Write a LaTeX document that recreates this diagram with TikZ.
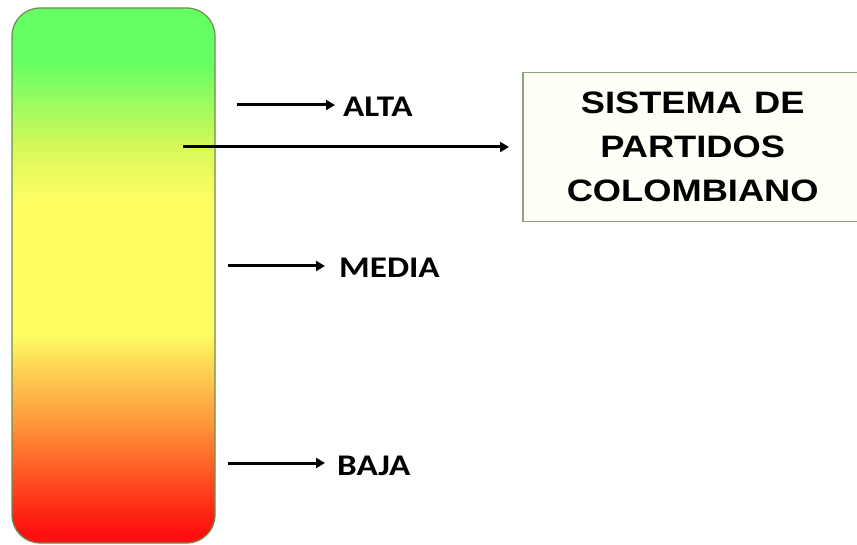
\documentclass[tikz,border=0pt]{standalone}
\usepackage{fontspec}
\usetikzlibrary{arrows.meta}
\newfontfamily\levelfont{Carlito}
\newfontfamily\titlefont{Liberation Sans}
\definecolor{high}{RGB}{100, 255, 100}
\definecolor{highmid}{RGB}{215, 248, 88}
\definecolor{mid}{RGB}{255, 255, 100}
\definecolor{midlow}{RGB}{255, 213, 85}
\definecolor{lowmid}{RGB}{255, 154, 60}
\definecolor{lowish}{RGB}{255, 80, 32}
\definecolor{low}{RGB}{255, 15, 15}
\definecolor{meterline}{RGB}{110, 140, 80}
\definecolor{boxline}{RGB}{140, 165, 120}
\definecolor{boxfill}{RGB}{255, 255, 248}
\pgfdeclareverticalshading{meter}{100bp}{color(0bp)=(low); color(26bp)=(low); color(31bp)=(lowish);
  color(36.5bp)=(lowmid); color(41.5bp)=(midlow); color(44.5bp)=(mid); color(57bp)=(mid);
  color(62bp)=(highmid); color(70bp)=(high); color(100bp)=(high)}
\newcommand{\wide}[1]{\scalebox{1.17}[1]{#1}}

\begin{document}
\begin{tikzpicture}[x=1pt, y=-1pt,
    levelarrow/.style={line width=3pt, -{Triangle[length=9pt, width=10pt]}},
    level/.style={font=\levelfont\bfseries\fontsize{30}{36}\selectfont, inner sep=0pt, anchor=base west},
    sistemabox/.style={fill=boxfill, minimum height=148pt, inner sep=0pt, text width=339pt, align=center,
                       font=\titlefont\bfseries\fontsize{31}{44}\selectfont}]
  \fill[white] (0, 0) rectangle (857, 545);
  \useasboundingbox (0, 0) rectangle (857, 545);
  \clip (0, 0) rectangle (857, 545);

  \node[shading=meter, draw=meterline, line width=1.2pt, rounded corners=28pt,
        minimum width=203pt, minimum height=535pt, inner sep=0pt] (bar) at (113.5, 275.5) {};

  \foreach \name/\txt/\xs/\xe/\xt/\y in {alta/ALTA/237/335/343/105,
                                         media/MEDIA/228/325/339/266,
                                         baja/BAJA/228/325/337/463} {
    \coordinate (\name-start) at (\xs, \y);
    \coordinate (\name-end) at (\xe, \y);
    \node[level] (\name) at (\xt, {\y + 12}) {\wide{\txt}};
    \draw[levelarrow] (\name-start) -- (\name-end);
  }

  \node[sistemabox, anchor=west] (sistema) at (523, 147) {\wide{SISTEMA DE}\\ \wide{PARTIDOS}\\ \wide{COLOMBIANO}};
  % the right side of the box runs off the page
  \draw[boxline, line width=1.2pt] ([xshift=20pt]sistema.north east) -- (sistema.north west)
    -- (sistema.south west) -- ([xshift=20pt]sistema.south east);

  \coordinate (bar-mid) at (183, 147);
  \draw[levelarrow, shorten >=14pt] (bar-mid) -- (bar-mid -| sistema.west);
\end{tikzpicture}
\end{document}
